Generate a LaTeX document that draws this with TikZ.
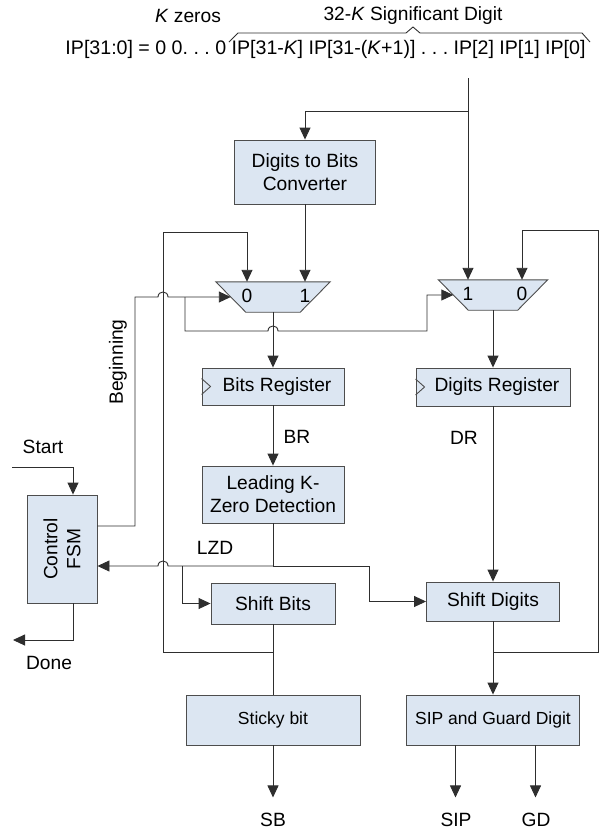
\documentclass[tikz,border=0pt]{standalone}
\usepackage{fontspec}
\setmainfont{Liberation Sans}
\usetikzlibrary{arrows.meta}

\definecolor{boxfill}{HTML}{DCE6F2}
\definecolor{boxline}{HTML}{4D4D4D}
\definecolor{wire}{HTML}{2E2E2E}

\tikzset{
  blk/.style={draw=boxline, fill=boxfill, line width=0.9pt, align=center, inner sep=0pt},
  muxbox/.style={inner sep=0pt, minimum height=30pt},
  muxfill/.style={draw=boxline, fill=boxfill, line width=0.9pt},
  wire/.style={draw=wire, line width=0.9pt},
  arr/.style={wire, -{Triangle[length=12pt,width=11pt]}},
  small/.style={font=\fontsize{17.5}{21}\selectfont},
}

\begin{document}
\frenchspacing
\begin{tikzpicture}[x=1pt, y=-1pt, every node/.style={font=\fontsize{19.2}{23}\selectfont}]
	\useasboundingbox (0,0) rectangle (600,831);

	% input word
	\node (kz) at (188,16) {\textit{K} zeros};
	\node (sd) at (413,16) {32-\textit{K} Significant Digit};
	\node[font=\fontsize{19.6}{23}\selectfont] (ip) at (325.5,49) {IP[31:0] = 0 0. . . 0 IP[31-\textit{K}] IP[31-(\textit{K}+1)] . . . IP[2] IP[1] IP[0]};
	\draw[wire] (229,42) -- (238,33) -- (406,33) -- (413,27) -- (420,33) -- (582,33) -- (590,42);

	% blocks
	\node[blk, minimum width=141pt, minimum height=64pt] (d2b) at (305,172) {Digits to Bits\\Converter};
	\node[muxbox, minimum width=114pt] (lmux) at (273,297) {};
	\draw[muxfill] (lmux.north west) -- (lmux.north east) -- ([xshift=-30pt]lmux.south east) -- ([xshift=30pt]lmux.south west) -- cycle;
	\node (lm0) at (247,296) {0};
	\node (lm1) at (305,296) {1};
	\node[muxbox, minimum width=109pt] (rmux) at (493,295) {};
	\draw[muxfill] (rmux.north west) -- (rmux.north east) -- ([xshift=-30pt]rmux.south east) -- ([xshift=30pt]rmux.south west) -- cycle;
	\node (rm1) at (468,294) {1};
	\node (rm0) at (522,294) {0};
	\node[blk, minimum width=142pt, minimum height=37pt] (breg) at (273,386.5) {\hspace{8pt}Bits Register};
	\node[blk, minimum width=154pt, minimum height=38pt] (dreg) at (493,387) {\hspace{8pt}Digits Register};
	\node[blk, minimum width=142pt, minimum height=57pt] (lkz) at (273,494.5) {Leading K-\\Zero Detection};
	\node[blk, minimum width=124pt, minimum height=41pt] (shb) at (273,603.5) {Shift Bits};
	\node[blk, minimum width=133pt, minimum height=39pt] (shd) at (493,601.5) {Shift Digits};
	\node[blk, small, minimum width=174pt, minimum height=50pt] (sticky) at (273,720) {Sticky bit};
	\node[blk, small, minimum width=173pt, minimum height=50pt] (sip) at (493,720) {SIP and Guard Digit};
	\node[blk, minimum width=70pt, minimum height=108pt] (fsm) at (62,549) {};
	\node[rotate=90, align=center] (fsmtxt) at (fsm) {Control\\FSM};

	% register clock marks
	\draw[boxline, line width=0.9pt] ([yshift=8pt]breg.west) -- ([xshift=9pt]breg.west) -- ([yshift=-8pt]breg.west);
	\draw[boxline, line width=0.9pt] ([yshift=8pt]dreg.west) -- ([xshift=9pt]dreg.west) -- ([yshift=-8pt]dreg.west);

	% signal labels
	\node (bl) at (297,437) {BR};
	\node (dl) at (464,438) {DR};
	\node (ll) at (215,548) {LZD};
	\node (stl) at (43,447) {Start};
	\node (dnl) at (49,663) {Done};
	\node[rotate=90] (bgl) at (118,362) {Beginning};
	\node (sbl) at (273,820) {SB};
	\node (sipl) at (456,820) {SIP};
	\node (gdl) at (536,820) {GD};

	% junctions
	\coordinate (top) at (468,78);
	\coordinate (jtop) at (468,111);
	\coordinate (jsb) at (273,652);
	\coordinate (jsd) at (493,652);
	\coordinate (jlzd) at (273,566);
	\coordinate (jsel) at (185,297);
	\coordinate (start) at (12,467);
	\coordinate (done) at (13,640);

	% data path
	\draw[arr] (top) -- (rm1 |- rmux.north);
	\draw[arr] (jtop) -| (d2b.north);
	\draw[arr] (d2b.south) -- (lm1 |- lmux.north);
	\draw[arr] (lmux.south) -- (breg.north);
	\draw[arr] (rmux.south) -- (dreg.north);
	\draw[arr] (breg.south) -- (lkz.north);
	\draw[arr] (dreg.south) -- (shd.north);
	\draw[wire] (lkz.south) -- (jlzd);
	\draw[wire] (shb.south) -- (sticky.north);
	\draw[arr] (shd.south) -- (sip.north);

	% feedback loops
	\draw[arr] (jsb) -- (163,652) -- (163,232) -| (lm0 |- lmux.north);
	\draw[arr] (jsd) -- (598,652) -- (598,230) -| (rm0 |- rmux.north);

	% select lines
	\draw[arr] ([yshift=23pt]fsm.east) -| (135,297) -- (158,297) .. controls (158,290.3) and (168,290.3) .. (168,297) -- ([xshift=15pt]lmux.west);
	\draw[arr] (jsel) -- (185,331) -- (268,331) .. controls (268,324.3) and (278,324.3) .. (278,331) -- (427,331) |- ([xshift=15pt]rmux.west);

	% LZD to FSM and shifters
	\draw[arr] (jlzd) -- (168,566) .. controls (168,559.3) and (158,559.3) .. (158,566) -- (fsm.east |- jlzd);
	\draw[arr] (182,566) |- (shb.west);
	\draw[arr] (jlzd) -- (369,566) |- (shd.west);

	% control in/out
	\draw[arr] (start) -| ([xshift=11pt]fsm.north);
	\draw[arr] ([xshift=11pt]fsm.south) |- (done);

	% outputs
	\draw[arr] (sticky.south) -- ++(0,52);
	\draw[arr] ([xshift=-37.5pt]sip.south) -- ++(0,52);
	\draw[arr] ([xshift=42.5pt]sip.south) -- ++(0,52);
\end{tikzpicture}
\end{document}
